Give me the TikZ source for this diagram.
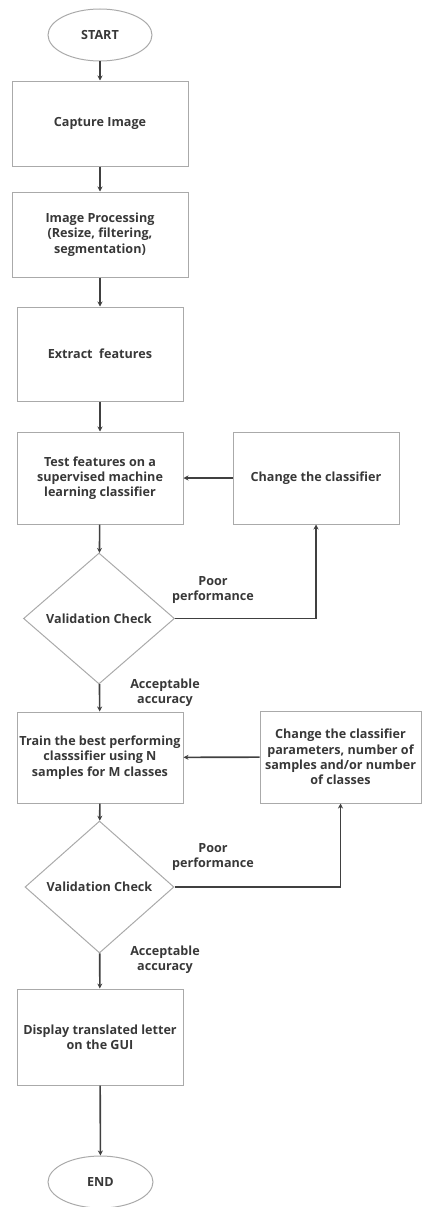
\documentclass[tikz,border=0pt]{standalone}
\usepackage{fontspec}
\setmainfont{Open Sans}
\usetikzlibrary{shapes.geometric,arrows.meta}
\definecolor{boxline}{HTML}{AAAAAA}
\definecolor{txt}{HTML}{383838}
\definecolor{arr}{HTML}{404040}
\begin{document}
\begin{tikzpicture}[x=1pt,y=1pt,
  every node/.style={font=\bfseries\fontsize{12.6}{15.3}\selectfont, text=txt, align=center},
  procbox/.style={draw=boxline, line width=1pt, rectangle, inner sep=1pt},
  termbox/.style={draw=boxline, line width=1pt, ellipse, inner sep=0pt},
  decbox/.style={draw=boxline, line width=1pt, diamond, inner sep=0pt},
  flow/.style={draw=arr, line width=1.6pt, -{Stealth[length=5pt,width=5pt]}},
  lbl/.style={font=\bfseries\fontsize{12.6}{15.3}\selectfont}
]
\useasboundingbox (0,0) rectangle (422,-1207);
\node[termbox, minimum width=104, minimum height=52] (start) at (100,-35) {START};
\node[procbox, minimum width=176, minimum height=85] (capture) at (100,-123.5) {Capture Image};
\node[procbox, minimum width=176, minimum height=85] (improc) at (100,-234.5) {Image Processing\\(Resize, filtering,\\segmentation)};
\node[procbox, minimum width=166, minimum height=94] (extract) at (100,-354) {Extract\ \ features};
\node[procbox, minimum width=166, minimum height=92] (test) at (100,-478) {Test features on a\\supervised machine\\learning classifier};
\node[procbox, minimum width=166, minimum height=92] (change1) at (316,-478) {Change the classifier};
\node[decbox, minimum width=151, minimum height=131] (val1) at (99,-618.5) {Validation Check};
\node[procbox, minimum width=166, minimum height=91] (train) at (100,-757.5) {Train the best performing\\classsifier using N\\samples for M classes};
\node[procbox, minimum width=161, minimum height=92] (change2) at (340.5,-757) {Change the classifier\\parameters, number of\\samples and/or number\\of classes};
\node[decbox, minimum width=149, minimum height=132] (val2) at (99.5,-887) {Validation Check};
\node[procbox, minimum width=166, minimum height=96] (display) at (100,-1037) {Display translated letter\\on the GUI};
\node[termbox, minimum width=105, minimum height=52] (end) at (100.5,-1182) {END};

\node[lbl] (poor1) at (213,-590) {Poor\\performance};
\node[lbl] (acc1) at (165,-693) {Acceptable\\accuracy};
\node[lbl] (poor2) at (213,-857) {Poor\\performance};
\node[lbl] (acc2) at (165,-960) {Acceptable\\accuracy};

\draw[flow] (start) -- (capture);
\draw[flow] (capture) -- (improc);
\draw[flow] (improc) -- (extract);
\draw[flow] (extract) -- (test);
\draw[flow] (test) -- (val1);
\draw[flow] (change1) -- (test);
\draw[flow] (val1.east) -| (change1.south);
\draw[flow] (val1) -- (train);
\draw[flow] (train) -- (val2);
\draw[flow] (change2) -- (train);
\draw[flow] (val2.east) -| (change2.south);
\draw[flow] (val2) -- (display);
\draw[flow] (display) -- (end);
\end{tikzpicture}
\end{document}
